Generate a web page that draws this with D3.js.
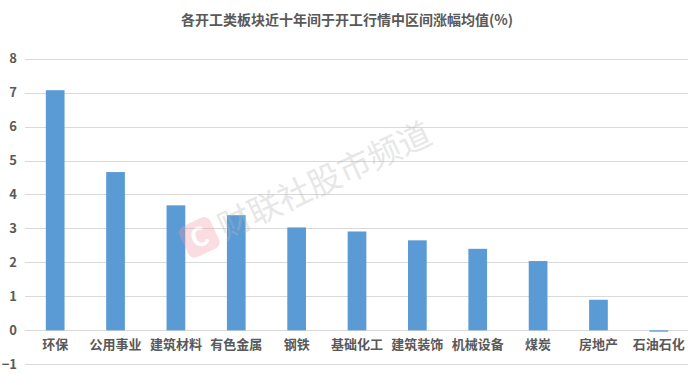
<!DOCTYPE html>
<html>
  <head>
    <meta charset="utf-8">
    <style>
      body { margin: 0; background: #fff; }
      text { font-family: "Noto Sans CJK SC", "Noto Sans", sans-serif; }
    </style>
  </head>
  <body>
    <div class="chart-container"></div>
    <script src="https://cdn.jsdelivr.net/npm/d3@7/dist/d3.min.js"></script>
    <script>
var categories = ['环保', '公用事业', '建筑材料', '有色金属', '钢铁', '基础化工', '建筑装饰', '机械设备', '煤炭', '房地产', '石油石化'];
var values = [7.07, 4.66, 3.68, 3.39, 3.03, 2.91, 2.65, 2.40, 2.04, 0.90, -0.04];
var yTicks = [-1, 0, 1, 2, 3, 4, 5, 6, 7, 8];
var title = '各开工类板块近十年间于开工行情中区间涨幅均值(%)';
var watermark = '财联社股市频道';

var width = 692, height = 374;
var margin = {top: 58, right: 3, bottom: 10, left: 25};
var textColor = '#595959';
var barColor = '#5B9BD5';

var svg = d3.select('.chart-container').append('svg')
    .attr('width', width)
    .attr('height', height);

var x = d3.scaleBand()
    .domain(categories)
    .range([margin.left, 689])
    .paddingInner(0.69)
    .paddingOuter(0.345);

var y = d3.scaleLinear()
    .domain([-1, 8])
    .range([364.3, 58.6]);

// gridlines
svg.append('g')
  .selectAll('line')
  .data(yTicks)
  .enter().append('line')
    .attr('x1', margin.left)
    .attr('x2', 688)
    .attr('y1', d => Math.round(y(d)) + 0.5)
    .attr('y2', d => Math.round(y(d)) + 0.5)
    .style('stroke', '#d9d9d9')
    .style('stroke-width', 1);

// y axis labels
var yAxis = d3.axisLeft(y).tickValues(yTicks).tickSize(0).tickPadding(8);
var gy = svg.append('g')
    .attr('transform', 'translate(' + margin.left + ',0)')
    .call(yAxis);
gy.select('.domain').remove();
gy.selectAll('text')
    .style('font-size', '13px')
    .style('font-weight', 'bold')
    .style('fill', textColor);

// bars
svg.append('g')
  .selectAll('rect')
  .data(values)
  .enter().append('rect')
    .attr('x', (d, i) => x(categories[i]))
    .attr('width', x.bandwidth())
    .attr('y', d => y(Math.max(0, d)))
    .attr('height', d => Math.max(1, Math.abs(y(d) - y(0))))
    .style('fill', barColor);

// category labels
var xAxis = d3.axisBottom(x).tickSize(0).tickPadding(0);
var gx = svg.append('g')
    .attr('transform', 'translate(0,' + 340 + ')')
    .call(xAxis);
gx.select('.domain').remove();
gx.selectAll('text')
    .style('font-size', '13px')
    .style('font-weight', 'bold')
    .style('fill', textColor);

// title
svg.append('text')
    .attr('x', 347)
    .attr('y', 25)
    .attr('text-anchor', 'middle')
    .style('font-size', '14px')
    .style('font-weight', 'bold')
    .style('fill', textColor)
    .text(title);

// watermark
var wm = svg.append('g')
    .attr('transform', 'translate(203,250) rotate(-25)')
    .style('opacity', 0.33);
wm.append('rect')
    .attr('x', -15).attr('y', -30)
    .attr('width', 34).attr('height', 34)
    .attr('rx', 7)
    .style('fill', '#f19aa2');
wm.append('text')
    .attr('x', 2).attr('y', -4)
    .attr('text-anchor', 'middle')
    .style('font-size', '26px')
    .style('font-weight', 'bold')
    .style('fill', '#fff')
    .text('C');
wm.append('text')
    .attr('x', 24)
    .attr('y', 0)
    .style('font-size', '33px')
    .style('fill', '#b8b8b8')
    .text(watermark);
    </script>
  </body>
</html>
